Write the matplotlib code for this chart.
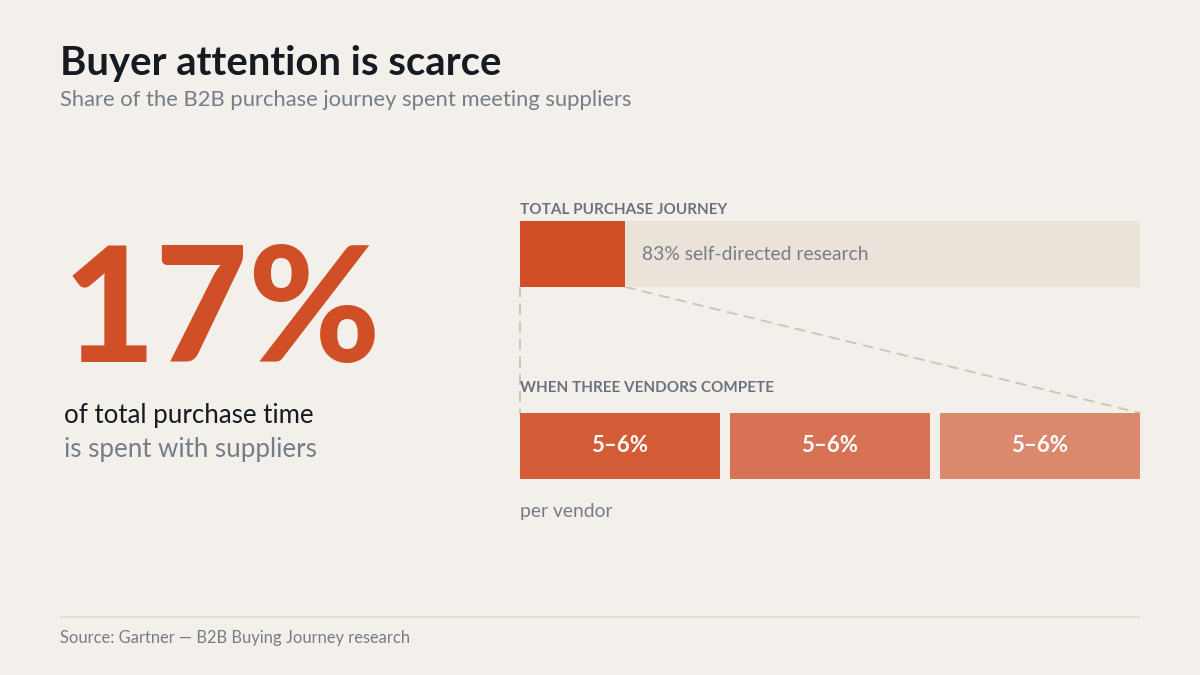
import matplotlib
matplotlib.use("Agg")
import matplotlib.pyplot as plt
from matplotlib.patches import ConnectionPatch

# ---- data ----
headline_share = 17          # % of purchase time with suppliers
self_directed_share = 83     # % self-directed research
vendor_names = ["Vendor A", "Vendor B", "Vendor C"]
vendor_low = [5, 5, 5]
vendor_high = [6, 6, 6]

title = "Buyer attention is scarce"
subtitle = "Share of the B2B purchase journey spent meeting suppliers"
source = "Source: Gartner \u2014 B2B Buying Journey research"

# ---- style ----
BG = "#f3f0eb"
ORANGE = "#d04f27"
VENDOR_COLORS = ["#d35b36", "#d77255", "#db896d"]
BEIGE = "#ebe3da"
DARK = "#161b22"
GRAY = "#767d87"
LABEL_GRAY = "#6b727c"
DASH = "#cfc5b8"
FONT = ["Lato", "DejaVu Sans"]

plt.rcParams["font.family"] = FONT

W, H = 1200, 675
fig = plt.figure(figsize=(W / 100, H / 100), dpi=100, facecolor=BG)

# overlay axes in pixel coordinates for text
ax = fig.add_axes([0, 0, 1, 1])
ax.set_xlim(0, W)
ax.set_ylim(H, 0)
ax.axis("off")
ax.set_facecolor(BG)

ax.text(60, 64, title, fontsize=28.8, fontweight="bold", color=DARK, va="center", ha="left")
ax.text(60, 100, subtitle, fontsize=15.8, color=GRAY, va="center", ha="left")

ax.text(63, 362, f"{headline_share}%", fontsize=115.5, fontweight="black", color=ORANGE,
        va="baseline", ha="left")
ax.text(64, 416, "of total purchase time", fontsize=18.6, color=DARK, va="center", ha="left")
ax.text(64, 450, "is spent with suppliers", fontsize=18.6, color=GRAY, va="center", ha="left")

ax.text(520, 214, "TOTAL PURCHASE JOURNEY", fontsize=11, fontweight="bold",
        color=LABEL_GRAY, va="baseline", ha="left")
ax.text(520, 392, "WHEN THREE VENDORS COMPETE", fontsize=11, fontweight="bold",
        color=LABEL_GRAY, va="baseline", ha="left")
ax.text(520, 511, "per vendor", fontsize=13.9, color=GRAY, va="center", ha="left")

ax.plot([60, 1140], [617, 617], color="#e2dcd3", lw=1.3, solid_capstyle="butt")
ax.text(60, 638, source, fontsize=11.9, color=GRAY, va="center", ha="left")

# ---- top bar: total journey ----
x0, bw, bh = 520 / W, 620 / W, 66 / H
ax_top = fig.add_axes([x0, 1 - 287 / H, bw, bh])
ax_top.set_xlim(0, 100)
ax_top.set_ylim(-0.5, 0.5)
ax_top.axis("off")
ax_top.barh(0, self_directed_share, left=headline_share, height=1, color=BEIGE)
ax_top.barh(0, headline_share, left=0, height=1, color=ORANGE)
ax_top.text(headline_share + 2.6, 0, f"{self_directed_share}% self-directed research",
            fontsize=13.9, color=GRAY, va="center", ha="left")

# ---- vendor bars ----
ax_v = fig.add_axes([x0, 1 - 479 / H, bw, bh])
w = 200 / 210
xs = list(range(len(vendor_names)))
mids = [(lo + hi) / 2 for lo, hi in zip(vendor_low, vendor_high)]
top = max(mids)
ax_v.bar(xs, mids, width=w, color=VENDOR_COLORS)
ax_v.set_xlim(-w / 2, xs[-1] + w / 2)
ax_v.set_ylim(0, top)
ax_v.axis("off")
for x, lo, hi in zip(xs, vendor_low, vendor_high):
    ax_v.text(x, top / 2, f"{lo}\u2013{hi}%", fontsize=16, fontweight="bold",
              color="white", va="center", ha="center")

# ---- dashed connectors ----
for (xa, xb) in [(0, -w / 2), (headline_share, xs[-1] + w / 2)]:
    con = ConnectionPatch(xyA=(xa, -0.5), coordsA=ax_top.transData,
                          xyB=(xb, top), coordsB=ax_v.transData,
                          color=DASH, lw=1.4, linestyle=(0, (5, 4)), zorder=0)
    fig.add_artist(con)

fig.savefig("out.png", dpi=100, facecolor=BG)
